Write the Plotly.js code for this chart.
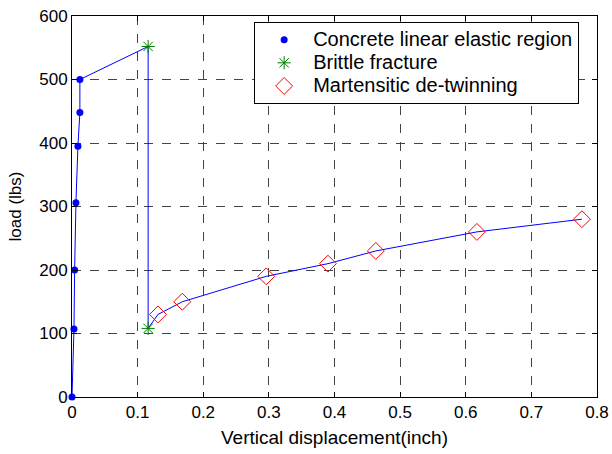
<!DOCTYPE html>
<html>
<head>
<meta charset="utf-8">
<script src="https://cdn.plot.ly/plotly-3.0.1.min.js"></script>
<style>
html,body{margin:0;padding:0;background:#fff}
.legendtext{font-size:20px !important}
</style>
</head>
<body>
<div id="chart" style="width:612px;height:454px"></div>
<script>
// Concrete linear elastic region
var elasticX = [0, 0.003, 0.004, 0.006, 0.009, 0.012, 0.012];
var elasticY = [0, 107, 200, 306, 395, 448, 500];
// Brittle fracture
var brittleX = [0.116, 0.116];
var brittleY = [552, 108];
// Martensitic de-twinning
var martX = [0.131, 0.168, 0.296, 0.39, 0.463, 0.617, 0.777];
var martY = [130, 150, 190, 210, 230, 260, 280];

var xTicks = [0, 0.1, 0.2, 0.3, 0.4, 0.5, 0.6, 0.7, 0.8];
var yTicks = [0, 100, 200, 300, 400, 500, 600];

var pathX = elasticX.concat(brittleX, martX);
var pathY = elasticY.concat(brittleY, martY);

var FONT = 'Liberation Sans, Arial, sans-serif';

var traces = [
  {x: pathX, y: pathY, mode: 'lines', line: {color: '#0000ff', width: 1}, showlegend: false, hoverinfo: 'skip', cliponaxis: false},
  {x: elasticX, y: elasticY, mode: 'markers', name: 'Concrete linear elastic region',
   marker: {symbol: 'circle', color: '#0000ff', size: 7}, cliponaxis: false},
  {x: brittleX, y: brittleY, mode: 'markers', name: 'Brittle fracture',
   marker: {symbol: 'asterisk-open', color: '#008000', size: 11, line: {color: '#008000', width: 1}}, cliponaxis: false},
  {x: martX, y: martY, mode: 'markers', name: 'Martensitic de-twinning',
   marker: {symbol: 'diamond-open', color: '#ff0000', size: 13, line: {color: '#ff0000', width: 1}}, cliponaxis: false}
];

var axisCommon = {
  showline: true, linecolor: '#000', linewidth: 1, mirror: 'ticks',
  ticks: 'inside', ticklen: 5, tickcolor: '#000',
  showgrid: true, gridcolor: '#444', griddash: 'dash', gridwidth: 1,
  zeroline: false,
  tickfont: {family: FONT, size: 17, color: '#000'}
};

var layout = {
  width: 612, height: 454,
  margin: {l: 72, r: 15, t: 16, b: 57},
  paper_bgcolor: '#fff', plot_bgcolor: '#fff',
  xaxis: Object.assign({}, axisCommon, {
    range: [0, 0.8], tickvals: xTicks, ticktext: xTicks.map(String),
    title: {text: 'Vertical displacement(inch)', font: {family: FONT, size: 19, color: '#000'}, standoff: 9}
  }),
  yaxis: Object.assign({}, axisCommon, {
    range: [0, 600], tickvals: yTicks, ticktext: yTicks.map(String),
    title: {text: 'load (lbs)', font: {family: FONT, size: 17, color: '#000'}, standoff: 13}
  }),
  legend: {
    x: 0.966, y: 0.984, xanchor: 'right', yanchor: 'top',
    bgcolor: '#fff', bordercolor: '#000', borderwidth: 1,
    font: {family: FONT, size: 15.5, color: '#000'},
    tracegroupgap: 0, itemwidth: 48
  },
  showlegend: true
};

Plotly.newPlot('chart', traces, layout, {displayModeBar: false, staticPlot: true});
</script>
</body>
</html>
